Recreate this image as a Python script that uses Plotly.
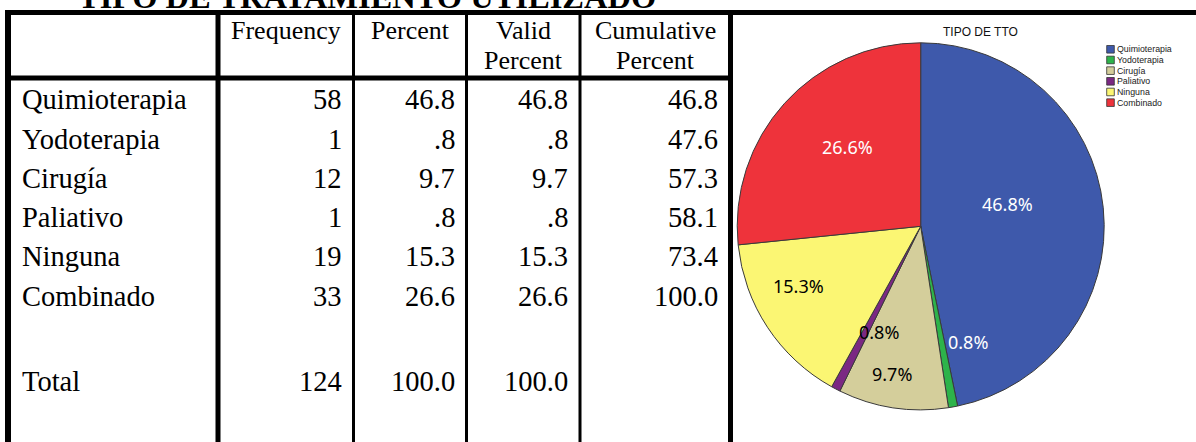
import math
import plotly.graph_objects as go

# ---------------- data ----------------
title = "TIPO DE TRATAMIENTO UTILIZADO"
categories = ["Quimioterapia", "Yodoterapia", "Cirugía", "Paliativo", "Ninguna", "Combinado"]
frequency = [58, 1, 12, 1, 19, 33]
percent = [46.8, 0.8, 9.7, 0.8, 15.3, 26.6]
valid_percent = [46.8, 0.8, 9.7, 0.8, 15.3, 26.6]
cumulative_percent = [46.8, 47.6, 57.3, 58.1, 73.4, 100.0]
total_label = "Total"
total_frequency = 124
total_percent = 100.0
total_valid_percent = 100.0
headers = [["Frequency"], ["Percent"], ["Valid", "Percent"], ["Cumulative", "Percent"]]
pie_title = "TIPO DE TTO"

# ---------------- styles ----------------
colors = ["#3E59AB", "#2DB34A", "#D4CE9B", "#7B2883", "#FBF673", "#EE333B"]
label_colors = ["white", "white", "black", "black", "black", "white"]
label_radius = [0.49, 0.68, 0.82, 0.62, 0.74, 0.59]
label_angle_shift = [-8.4, -12.1, 2.3, -5.9, 7.1, 5.2]

W, H = 1196, 442
SERIF = "Liberation Serif, Times New Roman, serif"
SANS = "Liberation Sans, Arial, sans-serif"


def px(x):
    return x / W


def py(y):
    return 1 - y / H


def fmt(v):
    s = f"{v:.1f}"
    if s.startswith("0."):
        s = s[1:]
    return s


fig = go.Figure()

# pie geometry (pixels)
cx, cy, R = 920.7, 226.3, 183.5
fig.add_trace(go.Pie(
    labels=categories, values=frequency, sort=False, direction="clockwise", rotation=0,
    marker=dict(colors=colors, line=dict(color="#3a3a3a", width=1)),
    textinfo="none", hoverinfo="label+percent", showlegend=False,
    domain=dict(x=[px(cx - R), px(cx + R)], y=[py(cy + R), py(cy - R)]),
))

shapes = []
annotations = []


def rect(x0, y0, x1, y1, color="black", line=None):
    shapes.append(dict(type="rect", xref="paper", yref="paper",
                       x0=px(x0), x1=px(x1), y0=py(y1), y1=py(y0),
                       fillcolor=color, line=dict(width=0) if line is None else line,
                       layer="above"))


def text(x, y, s, size, family=SERIF, color="black", xanchor="center", bold=False):
    if bold:
        s = f"<b>{s}</b>"
    annotations.append(dict(xref="paper", yref="paper", x=px(x), y=py(y), text=s,
                            showarrow=False, xanchor=xanchor, yanchor="middle",
                            font=dict(family=family, size=size, color=color)))


# ---------------- table lines ----------------
rect(5, 10, W, 15)            # top thick line
rect(5, 10, 11, H)            # left border
rect(215.5, 10, 220.5, H)     # first column divider
rect(5, 75.5, 733, 80.5)      # header bottom
for xd in [352, 465, 578.5]:
    rect(xd, 15, xd + 3, H)   # thin dividers
rect(728, 10, 733, H)         # right border

# ---------------- table text ----------------
text(367, -3.5, title, 32.5, bold=True)

col_centers = [286, 410, 523, 655]
for cxh, lines in zip(col_centers, headers):
    for i, ln in enumerate(lines):
        text(cxh, 30.5 + 30 * i, ln, 26)

row_size = 28.5
right_edges = [344, 457, 570, 720]
row_y0, row_step = 100, 39.2
for i, cat in enumerate(categories):
    y = row_y0 + i * row_step
    text(20, y, cat, row_size, xanchor="left")
    vals = [str(frequency[i]), fmt(percent[i]), fmt(valid_percent[i]), fmt(cumulative_percent[i])]
    for xr, v in zip(right_edges, vals):
        text(xr, y, v, row_size, xanchor="right")

ty = 381.5
text(20, ty, total_label, row_size, xanchor="left")
for xr, v in zip(right_edges[:3], [str(total_frequency), fmt(total_percent), fmt(total_valid_percent)]):
    text(xr, ty, v, row_size, xanchor="right")

# ---------------- pie labels ----------------
total = sum(frequency)
cum = 0
for i, f in enumerate(frequency):
    mid = (cum + f / 2) / total * 360 + label_angle_shift[i]
    cum += f
    r = label_radius[i] * R
    lx = cx + r * math.sin(math.radians(mid))
    ly = cy - r * math.cos(math.radians(mid))
    text(lx, ly, f"{f / total * 100:.1f}%", 18, family="Noto Sans, Open Sans, sans-serif",
         color=label_colors[i])

# pie title
text(980.8, 32.3, pie_title, 12, family=SANS, color="#111")

# legend (manual, compact like the reference)
for i, cat in enumerate(categories):
    yc = 49.3 + i * 10.67
    rect(1106.7, yc - 3.8, 1114.3, yc + 3.8, color=colors[i],
         line=dict(color="#333", width=0.8))
    text(1114.7, yc, cat, 8.8, family=SANS, color="#1a1a1a", xanchor="left")

fig.update_layout(
    width=W, height=H, margin=dict(l=0, r=0, t=0, b=0),
    paper_bgcolor="white", plot_bgcolor="white",
    shapes=shapes, annotations=annotations,
)

fig.write_html("out.html", config={"displayModeBar": False},
               post_script="document.body.style.margin='0';")
